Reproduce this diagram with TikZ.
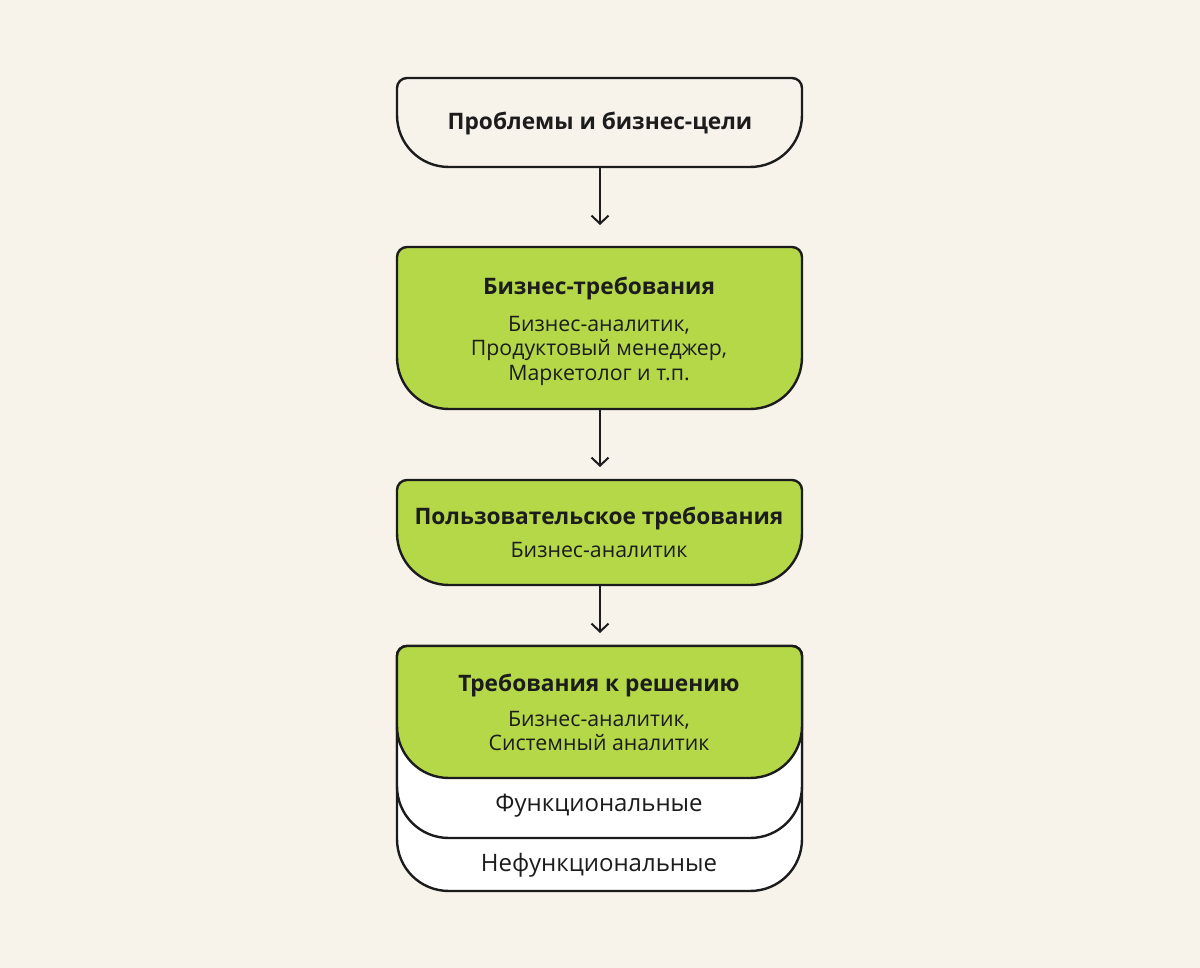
\documentclass[tikz,border=0pt]{standalone}
\usepackage{fontspec}
\setmainfont{Open Sans}
\usetikzlibrary{arrows.meta}
\definecolor{bgc}{HTML}{F7F3EB}
\definecolor{greenc}{HTML}{B4D848}
\definecolor{inkc}{HTML}{1C1C1C}
\newcommand{\tbshape}[4]{%
  (#1,{#2+10}) .. controls (#1,{#2+4.5}) and ({#1+4.5},#2) .. ({#1+10},#2)
  -- ({#3-10},#2) .. controls ({#3-4.5},#2) and (#3,{#2+4.5}) .. (#3,{#2+10})
  -- (#3,{#4-52}) .. controls (#3,{#4-23}) and ({#3-23},#4) .. ({#3-52},#4)
  -- ({#1+52},#4) .. controls ({#1+23},#4) and (#1,{#4-23}) .. (#1,{#4-52})
  -- cycle}
\begin{document}
\begin{tikzpicture}[x=1pt,y=-1pt,
  boxline/.style={draw=inkc,line width=2.4pt,line join=round},
  greenbox/.style={boxline,fill=greenc},
  whitebox/.style={boxline,fill=white},
  plainbox/.style={boxline,fill=bgc},
  titletext/.style={font=\fontsize{22.7}{28}\selectfont\bfseries,text=inkc,inner sep=0pt},
  bodytext/.style={font=\fontsize{21.3}{24.5}\selectfont,text=inkc,align=center,inner sep=0pt},
  layertext/.style={font=\fontsize{24}{28}\selectfont,text=inkc,inner sep=0pt},
  flowarrow/.style={draw=inkc,line width=2pt,-{Straight Barb[length=8pt,width=17pt,line width=2pt]}}]
\fill[bgc] (0,0) rectangle (1200,968);
\useasboundingbox (0,0) rectangle (1200,968);
% box 1
\path[plainbox] \tbshape{397}{78}{802}{167};
\node[titletext] (t1) at (600,124) {Проблемы и бизнес-цели};
\coordinate (b1) at (600,167);
% box 2
\path[greenbox] \tbshape{397}{247}{802}{409};
\node[titletext] (t2) at (599,289) {Бизнес-требования};
\node[bodytext,anchor=north] (s2) at (599,316) {Бизнес-аналитик,\\Продуктовый менеджер,\\Маркетолог и т.п.};
\coordinate (a2) at (600,247);
\coordinate (b2) at (600,409);
% box 3
\path[greenbox] \tbshape{397}{480}{802}{585};
\node[titletext] (t3) at (599,519) {Пользовательское требования};
\node[bodytext] (s3) at (599,550) {Бизнес-аналитик};
\coordinate (a3) at (600,480);
\coordinate (b3) at (600,585);
% box 4 stack
\path[whitebox] \tbshape{397}{646}{802}{891};
\path[whitebox] \tbshape{397}{646}{802}{838};
\path[greenbox] \tbshape{397}{646}{802}{778};
\node[titletext] (t4) at (599,686) {Требования к решению};
\node[bodytext,anchor=north] (s4) at (599,711) {Бизнес-аналитик,\\Системный аналитик};
\node[layertext] (f4) at (599,806) {Функциональные};
\node[layertext] (n4) at (599,865) {Нефункциональные};
\coordinate (a4) at (600,646);
% arrows
\draw[flowarrow] (b1) -- ([yshift=22]a2);
\draw[flowarrow] (b2) -- ([yshift=13]a3);
\draw[flowarrow] (b3) -- ([yshift=13]a4);
\end{tikzpicture}
\end{document}
